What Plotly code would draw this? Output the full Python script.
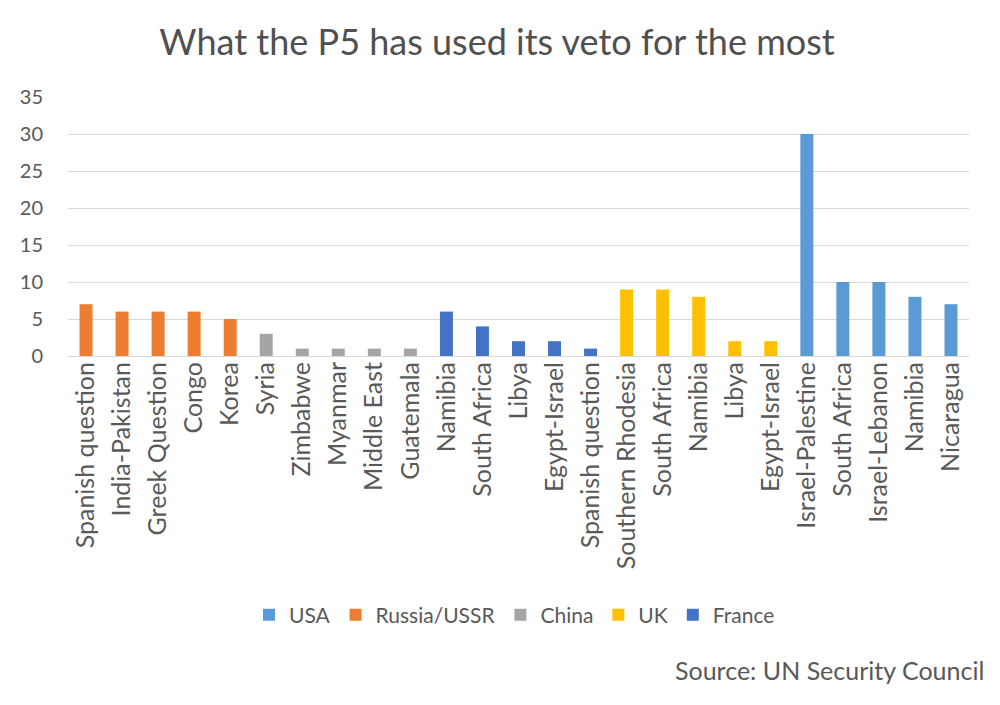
import plotly.graph_objects as go

categories = ["Spanish question", "India-Pakistan", "Greek Question", "Congo", "Korea",
              "Syria", "Zimbabwe", "Myanmar", "Middle East", "Guatemala",
              "Namibia", "South Africa", "Libya", "Egypt-Israel", "Spanish question",
              "Southern Rhodesia", "South Africa", "Namibia", "Libya", "Egypt-Israel",
              "Israel-Palestine", "South Africa", "Israel-Lebanon", "Namibia", "Nicaragua"]
countries = ["Russia/USSR"] * 5 + ["China"] * 5 + ["France"] * 5 + ["UK"] * 5 + ["USA"] * 5
vetoes = [7, 6, 6, 6, 5,
          3, 1, 1, 1, 1,
          6, 4, 2, 2, 1,
          9, 9, 8, 2, 2,
          30, 10, 10, 8, 7]
legend_order = ["USA", "Russia/USSR", "China", "UK", "France"]
colors = {"USA": "#5B9BD5", "Russia/USSR": "#ED7D31", "China": "#A5A5A5",
          "UK": "#FFC000", "France": "#4472C4"}

W, H = 992, 697
ML, MR, MT, MB = 55, 31, 89, 349
PH = H - MT - MB
PW = W - ML - MR

fig = go.Figure()
for c in legend_order:
    idx = [i for i, cc in enumerate(countries) if cc == c]
    fig.add_trace(go.Bar(
        x=idx, y=[vetoes[i] for i in idx], name=c,
        marker=dict(color=colors[c], line=dict(width=0)),
    ))

fig.update_layout(
    width=W, height=H,
    paper_bgcolor="white", plot_bgcolor="white",
    barmode="overlay", bargap=0.64,
    margin=dict(l=ML, r=MR, t=MT, b=MB),
    font=dict(family="Lato, 'Open Sans', sans-serif", color="#595959"),
    title=dict(text="What the P5 has used its veto for the most",
               x=489 / W, xanchor="center", y=1 - 34 / H, yanchor="middle",
               font=dict(size=36, color="#505050")),
    showlegend=True,
    legend=dict(orientation="h", x=(504 - ML) / PW, xanchor="center",
                yref="container", y=1 - 607 / H, yanchor="middle",
                font=dict(size=21, color="#595959"), traceorder="normal"),
    xaxis=dict(
        tickmode="array", tickvals=list(range(len(categories))), ticktext=categories,
        tickangle=-90, range=[-0.5, len(categories) - 0.5],
        tickfont=dict(size=25, color="#595959"),
        showgrid=False, showline=False, ticks="", zeroline=False,
    ),
    yaxis=dict(
        range=[0, 35], dtick=5, tick0=0,
        showgrid=True, gridcolor="#D9D9D9", gridwidth=1,
        zeroline=True, zerolinecolor="#D9D9D9", zerolinewidth=1,
        tickfont=dict(size=20, color="#595959"), ticks="",
        ticklabelstandoff=24,
    ),
    annotations=[dict(text="Source: UN Security Council", xref="paper", yref="paper",
                      x=(978 - ML) / PW, xanchor="right", y=(PH - (662 - MT)) / PH,
                      yanchor="middle", showarrow=False,
                      font=dict(size=25, color="#595959"))],
)

fig.write_html("out.html")
